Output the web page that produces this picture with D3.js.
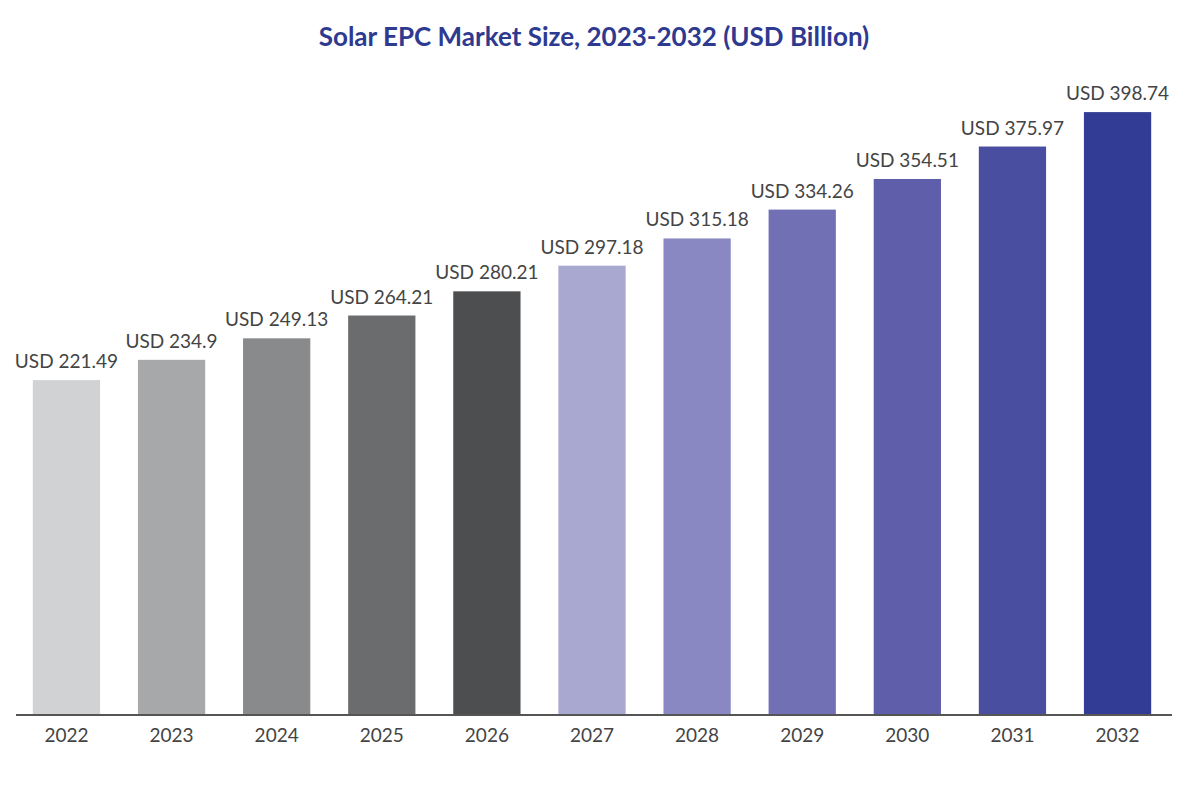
<!DOCTYPE html>
<html><head><meta charset="utf-8">
<script src="https://cdn.jsdelivr.net/npm/d3@7"></script>
<style>body{margin:0;background:#fff;} svg{display:block;}</style>
</head><body><svg id="c" width="1200" height="790"></svg>
<script>
const years = ["2022","2023","2024","2025","2026","2027","2028","2029","2030","2031","2032"];
const values = [221.49,234.9,249.13,264.21,280.21,297.18,315.18,334.26,354.51,375.97,398.74];
const colors = ["#d1d2d4","#a7a8aa","#898a8c","#6b6c6e","#4d4e50","#a9a8d1","#8a88c2","#7270b5","#5f5eaa","#4a4ea0","#323c94"];
const title = "Solar EPC Market Size, 2023-2032 (USD Billion)";

const svg = d3.select("#c");
const font = "Lato, 'Noto Sans', sans-serif";
const x = d3.scaleBand().domain(years).range([16,1168]).paddingInner(0.36).paddingOuter(0.16);
const y = d3.scaleLinear().domain([0,400]).range([715,110.2]);

svg.append("text").attr("x",594).attr("y",46).attr("text-anchor","middle")
  .attr("font-family",font).attr("font-weight","bold").attr("font-size",26)
  .attr("fill","#2e3a8f").text(title);

svg.selectAll("rect.bar").data(values).join("rect").attr("class","bar")
  .attr("x",(d,i)=>x(years[i])).attr("width",x.bandwidth())
  .attr("y",d=>y(d)).attr("height",d=>y(0)-y(d)).attr("fill",(d,i)=>colors[i]);

svg.selectAll("text.val").data(values).join("text").attr("class","val")
  .attr("x",(d,i)=>x(years[i])+x.bandwidth()/2).attr("y",d=>y(d)-12)
  .attr("text-anchor","middle").attr("font-family",font).attr("font-size",19)
  .attr("fill","#444").text(d=>"USD "+d);

const ax = svg.append("g").attr("transform","translate(0,715)")
  .call(d3.axisBottom(x).tickSize(0).tickPadding(14));
ax.select(".domain").attr("stroke","#555").attr("stroke-width",2).attr("d","M16,0H1172");
ax.selectAll("text").attr("font-family",font).attr("font-size",19).attr("fill","#444");
</script></body></html>
